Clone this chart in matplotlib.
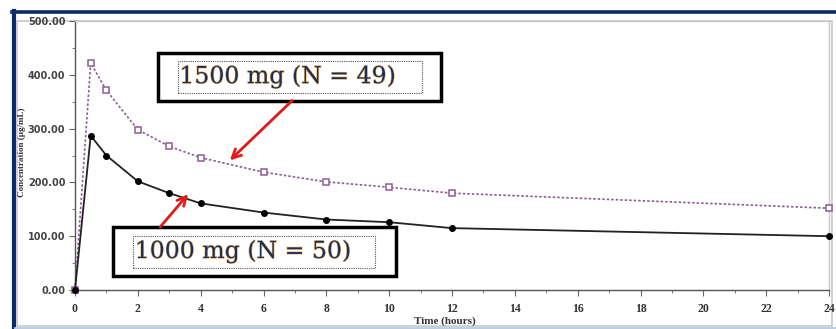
import numpy as np
import matplotlib.pyplot as plt
import matplotlib.patheffects as pe
from matplotlib.patches import Rectangle
from matplotlib.lines import Line2D
from matplotlib.ticker import MultipleLocator, FormatStrFormatter

### DATA
time_h = [0, 0.5, 1, 2, 3, 4, 6, 8, 10, 12, 24]
conc_1500 = [0, 422, 371, 298, 267, 246, 219, 201, 191, 180, 152]
conc_1000 = [0, 287, 250, 202, 180, 161, 144, 131, 126, 115, 100]
label_1500 = '1500 mg (N = 49)'
label_1000 = '1000 mg (N = 50)'

W, H = 836, 329
fig = plt.figure(figsize=(W/100, H/100), dpi=100)
fig.patch.set_facecolor('white')

# axes in pixel terms
x0, x1, ytop, ybot = 75, 829, 21, 290
ax = fig.add_axes([x0/W, 1-ybot/H, (x1-x0)/W, (ybot-ytop)/H])
ax.set_zorder(1)

# outer frame (navy) and chart border
fig.add_artist(Line2D([12/W, 1], [1-12/H, 1-12/H], color='#0d2a6b', lw=2.6, zorder=0))
fig.add_artist(Line2D([13.5/W, 13.5/W], [0, 1-11/H], color='#0d2a6b', lw=3, zorder=0))
fig.add_artist(Line2D([15/W, 1], [1.2/H, 1.2/H], color='#b9cde6', lw=2, zorder=0))
fig.add_artist(Rectangle((17/W, 3/H), (832-17)/W, (H-21-3)/H, fill=False,
                         ec='#c8c8c8', lw=1.2, transform=fig.transFigure, zorder=0))

purple = '#8d5d93'
ax.plot(time_h, conc_1500, ls=(0, (1.5, 1.2)), color=purple, lw=1.2,
        marker='s', ms=5, mfc='white', mec=purple, mew=1.1, clip_on=False, zorder=3)
ax.plot(time_h, conc_1000, ls='-', color='#222222', lw=1.3,
        marker='o', ms=4, mfc='black', mec='black', clip_on=False, zorder=3)

ax.set_xlim(0, 24)
ax.set_ylim(0, 500)
ax.xaxis.set_major_locator(MultipleLocator(2))
ax.xaxis.set_minor_locator(MultipleLocator(1))
ax.yaxis.set_major_locator(MultipleLocator(100))
ax.yaxis.set_minor_locator(MultipleLocator(50))
ax.yaxis.set_major_formatter(FormatStrFormatter('%.2f'))
ax.patch.set_alpha(0)

for s in ['left', 'bottom']:
    ax.spines[s].set_color('#555555')
    ax.spines[s].set_linewidth(1.0)
for s in ['top', 'right']:
    ax.spines[s].set_color('#c8c8c8')
    ax.spines[s].set_linewidth(1.0)

ax.tick_params(which='both', direction='out', color='#666666')
ax.tick_params(which='major', length=4)
ax.tick_params(which='minor', length=2.5)
ax.tick_params(axis='x', labelsize=8.5, labelcolor='#333333', pad=5)
ax.tick_params(axis='y', labelsize=7, labelcolor='#444444', pad=3)
for t in ax.get_xticklabels():
    t.set_fontfamily('Liberation Serif')
    t.set_fontweight('bold')
for t in ax.get_yticklabels():
    t.set_fontfamily('DejaVu Sans')
    t.set_fontweight('bold')

fig.text(22/W, 1-152/H, 'Concentration (µg/mL)', rotation=90, ha='center', va='center',
         fontsize=6.5, fontweight='bold', family='Liberation Serif', color='#333333')
fig.text(445/W, 1-321.5/H, 'Time (hours)', ha='center', va='center',
         fontsize=8, fontweight='bold', family='Liberation Serif', color='#333333')

# annotation boxes
def label_box(outer, inner, text_x, text_y, text):
    ax.add_patch(Rectangle((outer[0], outer[2]), outer[1]-outer[0], outer[3]-outer[2],
                           fc='white', ec='black', lw=2.5, zorder=5, clip_on=False))
    ax.add_patch(Rectangle((inner[0], inner[2]), inner[1]-inner[0], inner[3]-inner[2],
                           fill=False, ec='#555555', lw=0.8, ls=(0, (1, 1)), zorder=6,
                           clip_on=False))
    ax.text(text_x, text_y, text, ha='left', va='center', fontsize=17,
            family='DejaVu Serif', color='#1c2f55', zorder=7,
            path_effects=[pe.withStroke(linewidth=0.9, foreground='#e8b878')])

label_box((2.64, 11.65, 352, 441), (3.28, 11.04, 367, 426), 3.32, 397, label_1500)
label_box((1.21, 10.22, 26, 117), (1.85, 9.55, 41, 100), 1.9, 72, label_1000)

arrow = dict(arrowstyle='->', color='#e01a1a', lw=2, mutation_scale=16,
             shrinkA=0, shrinkB=0)
ax.annotate('', xy=(4.93, 241), xytext=(6.91, 352), arrowprops=arrow, zorder=8)
ax.annotate('', xy=(3.6, 178), xytext=(2.71, 117), arrowprops=arrow, zorder=8)

fig.savefig('out.png', dpi=100)
